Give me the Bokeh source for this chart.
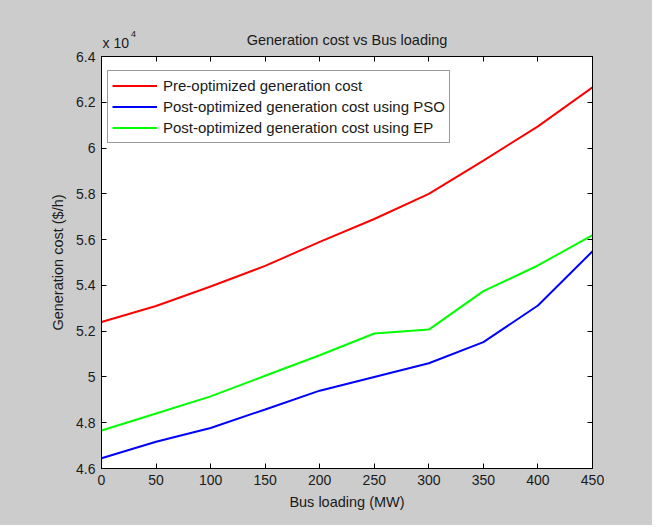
from bokeh.plotting import figure
from bokeh.models import Range1d, FixedTicker, LinearAxis, CustomJSTickFormatter
from bokeh.layouts import column
from bokeh.core.properties import value
from bokeh.embed import file_html
from bokeh.resources import INLINE

# Data (generation cost in units of 10^4 $/h)
bus_loading = [0, 50, 100, 150, 200, 250, 300, 350, 400, 450]
pre_opt = [5.24, 5.31, 5.395, 5.485, 5.59, 5.69, 5.80, 5.945, 6.095, 6.265]
post_pso = [4.645, 4.717, 4.777, 4.858, 4.94, 5.0, 5.06, 5.152, 5.312, 5.549]
post_ep = [4.766, 4.84, 4.915, 5.005, 5.095, 5.19, 5.207, 5.375, 5.487, 5.62]
x_ticks = [0, 50, 100, 150, 200, 250, 300, 350, 400, 450]
y_ticks = [4.6, 4.8, 5.0, 5.2, 5.4, 5.6, 5.8, 6.0, 6.2, 6.4]
title_text = "Generation cost vs Bus loading"
multiplier_text = "x 10"
exponent_text = "4"

FONT = "Liberation Sans"
TXT = "#1a1a1a"
GRAY = "#cccccc"

W = 652
LEFT, RIGHT = 101, 60

# ---- header strip (title and axis multiplier) ----
TOP_H = 50
h = figure(width=W, height=TOP_H, x_range=Range1d(0, 450), y_range=Range1d(0, TOP_H),
           x_axis_type=None, y_axis_type=None,
           output_backend="svg", toolbar_location=None, title=None,
           min_border_left=LEFT, min_border_right=RIGHT, min_border_top=0, min_border_bottom=0)
h.grid.visible = False
h.outline_line_color = None
h.background_fill_color = GRAY
h.border_fill_color = GRAY
h.text(x=[225], y=[11], text=[title_text], text_align="center", text_baseline="alphabetic",
       text_font=value(FONT), text_font_size="14.5px", text_color=TXT)
h.text(x=[1], y=[8], text=[multiplier_text], text_align="left", text_baseline="alphabetic",
       text_font=value(FONT), text_font_size="14px", text_color=TXT)
h.text(x=[27], y=[17], text=[exponent_text], text_align="left", text_baseline="alphabetic",
       text_font=value(FONT), text_font_size="9px", text_color=TXT)

# ---- main chart ----
p = figure(width=W, height=525 - TOP_H, x_range=Range1d(0, 450), y_range=Range1d(4.6, 6.4),
           output_backend="svg", toolbar_location=None, title=None,
           min_border_left=LEFT, min_border_right=RIGHT, min_border_top=6, min_border_bottom=57)
p.background_fill_color = "white"
p.border_fill_color = GRAY
p.outline_line_color = "black"
p.outline_line_width = 1
p.xgrid.visible = False
p.ygrid.visible = False

fmt = CustomJSTickFormatter(code="return Number(tick.toFixed(1)).toString();")

def style_axis(ax, ticks, show_labels=True):
    ax.ticker = FixedTicker(ticks=ticks)
    ax.major_tick_in = 5
    ax.major_tick_out = 0
    ax.minor_tick_line_color = None
    ax.axis_line_color = "black"
    ax.major_tick_line_color = "black"
    ax.major_label_text_font = FONT
    ax.major_label_text_font_size = "14px" if show_labels else "0px"
    ax.major_label_text_color = TXT if show_labels else None
    ax.major_label_standoff = 6 if show_labels else 0
    ax.axis_label_text_font = FONT
    ax.axis_label_text_font_size = "14.5px"
    ax.axis_label_text_font_style = "normal"
    ax.axis_label_text_color = TXT

style_axis(p.xaxis[0], x_ticks)
style_axis(p.yaxis[0], y_ticks)
p.yaxis[0].formatter = fmt
p.xaxis[0].axis_label = "Bus loading (MW)"
p.yaxis[0].axis_label = "Generation cost ($/h)"
p.xaxis[0].axis_label_standoff = 6
p.yaxis[0].axis_label_standoff = 7

top_ax = LinearAxis()
style_axis(top_ax, x_ticks, show_labels=False)
right_ax = LinearAxis()
style_axis(right_ax, y_ticks, show_labels=False)
p.add_layout(top_ax, "above")
p.add_layout(right_ax, "right")

p.line(bus_loading, pre_opt, line_color="#ff0000", line_width=2, legend_label="Pre-optimized generation cost")
p.line(bus_loading, post_pso, line_color="#0000ff", line_width=2, legend_label="Post-optimized generation cost using PSO")
p.line(bus_loading, post_ep, line_color="#00ff00", line_width=2, legend_label="Post-optimized generation cost using EP")

lg = p.legend[0]
lg.location = (6, 325)
lg.border_line_color = "#333333"
lg.border_line_width = 1
lg.background_fill_color = "white"
lg.background_fill_alpha = 1
lg.padding = 4
lg.spacing = 0
lg.margin = 0
lg.glyph_width = 45
lg.glyph_height = 21
lg.label_height = 21
lg.label_standoff = 6
lg.label_text_font = FONT
lg.label_text_font_size = "15px"
lg.label_text_color = TXT

layout = column(h, p, spacing=0, styles={"background-color": GRAY})
open("out.html", "w").write(file_html(layout, INLINE))
